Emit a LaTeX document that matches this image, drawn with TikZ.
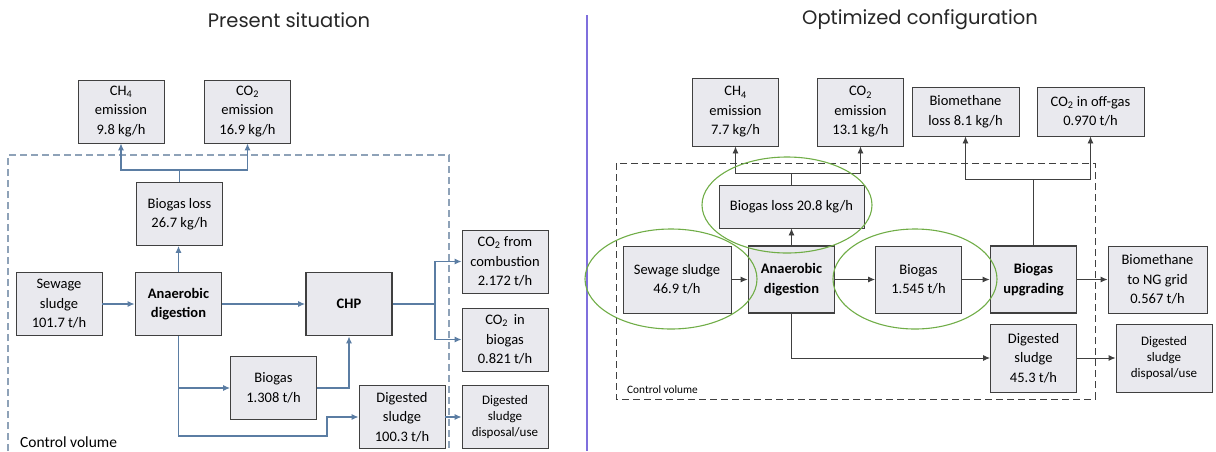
\documentclass[tikz,border=0pt]{standalone}
\usepackage{fontspec}
\setmainfont{Carlito}
\newfontfamily\titlefont{Poppins}
\usetikzlibrary{arrows.meta,positioning}
\definecolor{pfFill}{HTML}{E9E9EE}
\definecolor{pfLine}{HTML}{404040}
\definecolor{pfSteel}{HTML}{5B7DA3}
\definecolor{pfDash}{HTML}{8EA2B8}
\definecolor{pfGreen}{HTML}{70AD47}
\definecolor{pfViolet}{HTML}{7F6FDD}

\begin{document}
\begin{tikzpicture}[
  x=1pt, y=-1pt,
  >={Latex[length=7pt,width=6pt]},
  box/.style={
    draw=pfLine,
    fill=pfFill,
    line width=0.9pt,
    align=center,
    inner sep=1pt,
    minimum width=86pt,
    minimum height=63pt,
    font=\fontsize{14.5}{19.5}\selectfont
  },
  mainbox/.style={box, line width=1.8pt, font=\fontsize{14.5}{19.5}\selectfont\bfseries},
  smallbox/.style={box, font=\fontsize{13}{16}\selectfont},
  flowL/.style={->, draw=pfSteel, line width=1.1pt},
  flowR/.style={->, draw=pfLine, line width=0.9pt},
  lineL/.style={draw=pfSteel, line width=1.1pt},
  lineR/.style={draw=pfLine, line width=0.9pt},
  ring/.style={draw=pfGreen, line width=1.1pt},
  heading/.style={font=\titlefont\fontsize{19.5}{22}\selectfont, text=black!85}
]
  \useasboundingbox (0,0) rectangle (1216,451);

  % titles and divider
  \node[heading] (titleL) at (289,20) {Present situation};
  \node[heading] (titleR) at (920,20) {Optimized configuration};
  \draw[pfViolet, line width=1.3pt] (587,15) -- (587,451);

  % ---- present situation ----
  \draw[pfDash, line width=1.2pt, dash pattern=on 7pt off 4pt]
    (8,451) -- (8,155) -- (449,155) -- (449,451);
  \node[anchor=west, inner sep=0pt, font=\fontsize{15.5}{18}\selectfont] (cvL) at (20,442) {Control volume};

  \node[box] (ch4L) at (121,111.5) {CH\textsubscript{4}\\emission\\9.8 kg/h};
  \node[box] (co2L) at (247.5,111.5) {CO\textsubscript{2}\\emission\\16.9 kg/h};
  \node[box] (lossL) at (179.5,214) {Biogas loss\\26.7 kg/h};
  \node[box] (sewL) at (59,304) {Sewage\\sludge\\101.7 t/h};
  \node[mainbox] (adL) at (178.5,304) {Anaerobic\\digestion};
  \node[mainbox] (chp) at (349,304) {CHP};
  \node[box] (biogasL) at (273.5,388) {Biogas\\1.308 t/h};
  \node[box] (combL) at (505,261.5) {CO\textsubscript{2} from\\combustion\\2.172 t/h};
  \node[box] (co2inL) at (505,339.5) {CO\textsubscript{2}\, in\\biogas\\0.821 t/h};
  \node[box] (digL) at (402,417) {Digested\\sludge\\100.3 t/h};
  \node[smallbox] (dispL) at (505,417) {Digested\\sludge\\disposal/use};

  \coordinate (splitL) at (179.5,170);
  \coordinate (forkL) at (435,304);
  \coordinate (bendL) at (327,436);

  \draw[lineL] (lossL.north) -- (splitL);
  \draw[flowL] (splitL) -| (ch4L.south);
  \draw[flowL] (splitL) -| (co2L.south);
  \draw[flowL] (adL.north) -- (adL.north |- lossL.south);
  \draw[flowL] (sewL.east) -- (adL.west);
  \draw[flowL] (adL.east) -- (chp.west);
  \draw[flowL] (adL.south) |- (biogasL.west);
  \draw[flowL] (adL.south) |- (bendL) |- (digL.west);
  \draw[flowL] (biogasL.east) -| (chp.south);
  \draw[lineL] (chp.east) -- (forkL);
  \draw[flowL] (forkL) |- (combL.west);
  \draw[flowL] (forkL) |- (co2inL.west);
  \draw[flowL] (digL.east) -- (dispL.west);

  % ---- optimized configuration ----
  \draw[pfLine, line width=0.9pt, dash pattern=on 7pt off 4pt]
    (616,163) rectangle (1095,399);
  \node[anchor=west, inner sep=0pt, font=\fontsize{11.3}{13}\selectfont] (cvR) at (627,390) {Control volume};

  \node[box, minimum height=68pt] (ch4R) at (735.5,112) {CH\textsubscript{4}\\emission\\7.7 kg/h};
  \node[box, minimum height=68pt] (co2R) at (860.5,112) {CO\textsubscript{2}\\emission\\13.1 kg/h};
  \node[box, minimum width=145pt, minimum height=43pt] (lossR) at (791.5,206.5) {Biogas loss 20.8 kg/h};
  \node[box, minimum width=107pt, minimum height=49pt] (bmloss) at (965.5,111.5) {Biomethane\\loss 8.1 kg/h};
  \node[box, minimum width=107pt, minimum height=49pt] (co2off) at (1090.5,111.5) {CO\textsubscript{2} in off-gas\\0.970 t/h};
  \node[box, minimum width=108pt, minimum height=67pt] (sewR) at (677,279.5) {Sewage sludge\\46.9 t/h};
  \node[mainbox, minimum height=67pt] (adR) at (791.5,279.5) {Anaerobic\\digestion};
  \node[box, minimum height=67pt] (biogasR) at (918.5,279.5) {Biogas\\1.545 t/h};
  \node[mainbox, minimum height=67pt] (upg) at (1033.5,279.5) {Biogas\\upgrading};
  \node[box, minimum width=99pt, minimum height=67pt] (ngR) at (1157.5,279.5) {Biomethane\\to NG grid\\0.567 t/h};
  \node[box, minimum height=68pt] (digR) at (1033.5,358) {Digested\\sludge\\45.3 t/h};
  \node[smallbox, minimum width=96pt, minimum height=68pt] (dispR) at (1164,358) {Digested\\sludge\\disposal/use};

  \coordinate (splitR) at (791.5,173);
  \coordinate (splitU) at (1033.5,179);

  \draw[flowR] (adR.north) -- (lossR.south);
  \draw[lineR] (lossR.north) -- (splitR);
  \draw[flowR] (splitR) -| (ch4R.south);
  \draw[flowR] (splitR) -| (co2R.south);
  \draw[lineR] (upg.north) -- (splitU);
  \draw[flowR] (splitU) -| (bmloss.south);
  \draw[flowR] (splitU) -| (co2off.south);
  \draw[flowR] (sewR.east) -- (adR.west);
  \draw[flowR] (adR.east) -- (biogasR.west);
  \draw[flowR] (biogasR.east) -- (upg.west);
  \draw[flowR] (upg.east) -- (ngR.west);
  \draw[flowR] (adR.south) |- (digR.west);
  \draw[flowR] (digR.east) -- (dispR.west);

  % highlighted changes
  \draw[ring] (787,205) ellipse [x radius=85, y radius=48];
  \draw[ring] (671,279) ellipse [x radius=86, y radius=50];
  \draw[ring] (915,279) ellipse [x radius=82, y radius=50];
\end{tikzpicture}
\end{document}
